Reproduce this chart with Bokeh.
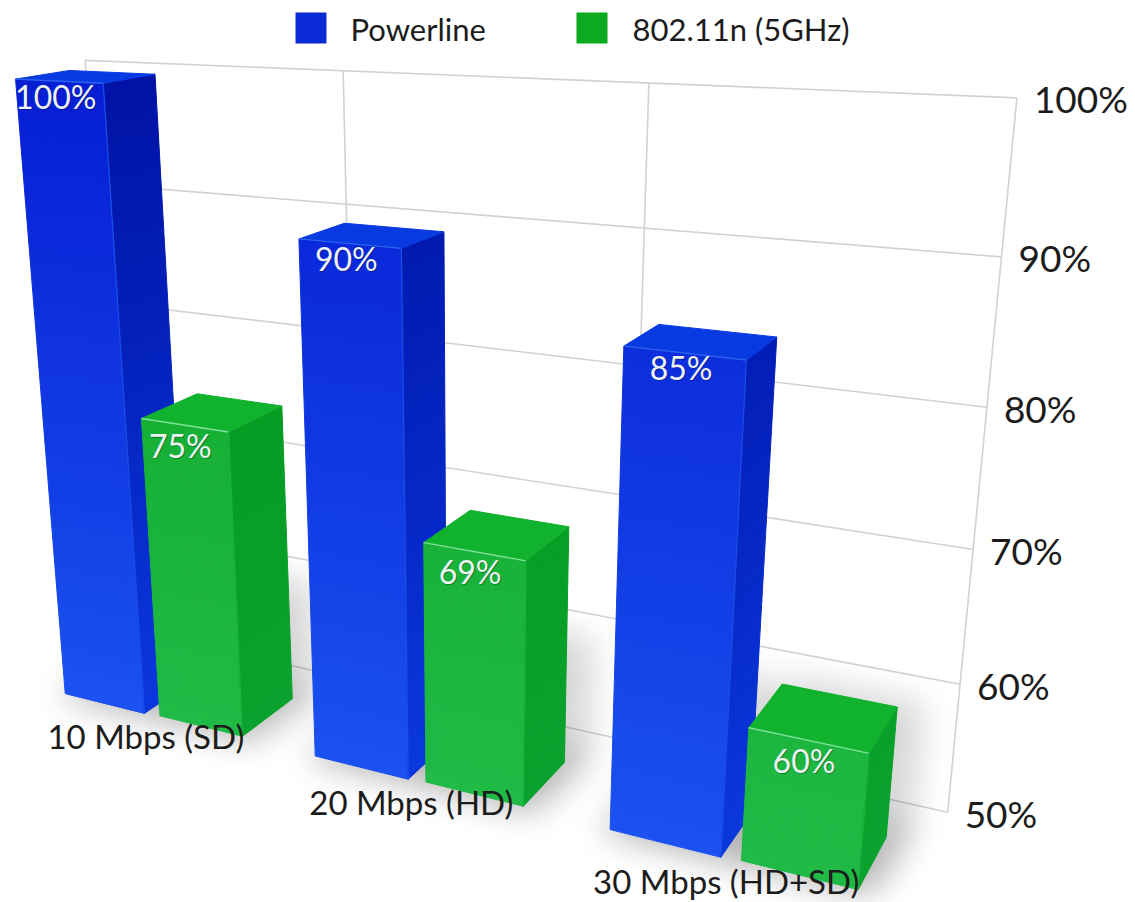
import numpy as np
from bokeh.core.properties import value
from bokeh.embed import file_html
from bokeh.plotting import figure
from bokeh.resources import INLINE

# Chart data
categories = ["10 Mbps (SD)", "20 Mbps (HD)", "30 Mbps (HD+SD)"]
powerline = [100, 90, 85]
wifi_5ghz = [75, 69, 60]
tick_values = [50, 60, 70, 80, 90, 100]
series_names = ["Powerline", "802.11n (5GHz)"]

# Pinhole camera for the 3D scene: column order is category, height, depth, 1
CAMERA = np.array([
    [208.1123, -47.27131, -96.3885, 123.397],
    [4.414067, -573.8098, 9.989085, 627.6443],
    [-0.07017557, -0.1003155, -0.06810682, 1.0],
])

# Bar layout inside each category slot: offset, width, back depth, front depth
BLUE_BOX = (0.1568, 0.3340, 0.5193, 1.0)
GREEN_BOX = (0.5478, 0.3280, 0.4156, 0.9830)

# Shades per face as (low end of the axis, high end of the axis)
BLUE_FRONT = ((26, 82, 240), (6, 30, 212))
BLUE_SIDE = ((10, 56, 222), (0, 18, 165))
BLUE_TOP = (8, 58, 226)
GREEN_FRONT = ((32, 186, 70), (12, 166, 36))
GREEN_SIDE = ((10, 162, 46), (3, 150, 24))
GREEN_TOP = (16, 178, 46)
FONT = value("Lato")
W, H = 1135, 902
SHADOW_TOP = 430


def project(x, v, z):
    q = CAMERA @ np.array([x, (v - 50) / 50, z, 1.0])
    return q[0] / q[2], q[1] / q[2]


def polygon(points):
    pts = [project(*pt) for pt in points]
    return [a for a, _ in pts], [b for _, b in pts]


def hex_colour(rgb):
    return "#%02x%02x%02x" % tuple(int(round(c)) for c in rgb)


def shade(pair, v):
    t = (v - 50) / 50
    return hex_colour(np.array(pair[0]) * (1 - t) + np.array(pair[1]) * t)


def fill_convex(mask, xs, ys, strength):
    """Add a convex polygon to a raster mask whose first row is SHADOW_TOP."""
    xs, ys = np.asarray(xs), np.asarray(ys) - SHADOW_TOP
    gx, gy = np.meshgrid(np.arange(mask.shape[1]), np.arange(mask.shape[0]))
    inside_pos = np.ones(mask.shape, bool)
    inside_neg = np.ones(mask.shape, bool)
    for k in range(len(xs)):
        j = (k + 1) % len(xs)
        cross = (xs[j] - xs[k]) * (gy - ys[k]) - (ys[j] - ys[k]) * (gx - xs[k])
        inside_pos &= cross >= 0
        inside_neg &= cross <= 0
    mask[inside_pos | inside_neg] += strength


def box_blur(mask, radius):
    kernel = np.ones(2 * radius + 1) / (2 * radius + 1)
    out = mask
    for _ in range(3):
        out = np.apply_along_axis(lambda m: np.convolve(m, kernel, "same"), 0, out)
        out = np.apply_along_axis(lambda m: np.convolve(m, kernel, "same"), 1, out)
    return out


p = figure(width=W, height=H, x_range=(0, W), y_range=(H, 0),
           toolbar_location=None, output_backend="svg", min_border=0)
p.axis.visible = False
p.grid.visible = False
p.outline_line_color = None
p.background_fill_color = "white"
p.border_fill_color = "white"

# Back wall grid
grid_xs, grid_ys = [], []
for tick in tick_values:
    gx, gy = polygon([(0, tick, 0), (3, tick, 0)])
    grid_xs.append(gx)
    grid_ys.append(gy)
for slot in range(4):
    gx, gy = polygon([(slot, 50, 0), (slot, 100, 0)])
    grid_xs.append(gx)
    grid_ys.append(gy)
p.multi_line(grid_xs, grid_ys, line_color="#d2d2d2", line_width=1.6)

# Soft contact shadows around the bars
shadow = np.zeros((H - SHADOW_TOP, W))
for slot in range(3):
    for box in (BLUE_BOX, GREEN_BOX):
        off, width, back, front = box
        x0, x1 = slot + off, slot + off + width
        sx, sy = polygon([(x0 - 0.02, 50, front + 0.05), (x1 + 0.04, 50, front + 0.05),
                          (x1 + 0.06, 50, back - 0.15), (x0 - 0.02, 50, back - 0.15)])
        fill_convex(shadow, sx, sy, 0.28)
        sx, sy = polygon([(x0, 50, back - 0.12), (x1 + 0.06, 50, back - 0.12),
                          (x1 + 0.06, 60, back - 0.12), (x0, 60, back - 0.12)])
        fill_convex(shadow, sx, sy, 0.16)
alpha = np.clip(box_blur(shadow, 15), 0, 0.36)
rgba = np.zeros(alpha.shape, dtype=np.uint32)
view = rgba.view(dtype=np.uint8).reshape((*alpha.shape, 4))
view[..., 3] = (alpha * 255).astype(np.uint8)
p.image_rgba(image=[rgba], x=0, y=SHADOW_TOP, dw=W, dh=H - SHADOW_TOP)

# Bars, painted back to front, each face split into bands for a vertical gradient
face_xs, face_ys, face_colours = [], [], []
edge_xs, edge_ys, edge_colours = [], [], []
value_x, value_y, value_text = [], [], []
BANDS = 36


def add_bar(slot, v, box, front_pair, side_pair, top_rgb, edge_top, edge_seam, label_dx, label_dy):
    off, width, back, front = box
    x0, x1 = slot + off, slot + off + width
    steps = np.linspace(50, v, BANDS + 1)
    for lo, hi in zip(steps[:-1], steps[1:]):
        mid = (lo + hi) / 2
        fx, fy = polygon([(x0, lo, front), (x1, lo, front), (x1, hi, front), (x0, hi, front)])
        face_xs.append(fx)
        face_ys.append(fy)
        face_colours.append(shade(front_pair, mid))
        fx, fy = polygon([(x1, lo, front), (x1, lo, back), (x1, hi, back), (x1, hi, front)])
        face_xs.append(fx)
        face_ys.append(fy)
        face_colours.append(shade(side_pair, mid))
    fx, fy = polygon([(x0, v, front), (x1, v, front), (x1, v, back), (x0, v, back)])
    face_xs.append(fx)
    face_ys.append(fy)
    face_colours.append(hex_colour(top_rgb))
    ex, ey = polygon([(x0, v, front), (x1, v, front)])
    edge_xs.append(ex)
    edge_ys.append(ey)
    edge_colours.append(edge_top)
    ex, ey = polygon([(x1, v, front), (x1, 50, front)])
    edge_xs.append(ex)
    edge_ys.append(ey)
    edge_colours.append(edge_seam)
    cx, cy = project((x0 + x1) / 2, v, front)
    value_x.append(cx + label_dx)
    value_y.append(cy + label_dy)
    value_text.append(f"{v}%")


for slot in range(3):
    add_bar(slot, powerline[slot], BLUE_BOX, BLUE_FRONT, BLUE_SIDE, BLUE_TOP, "#2c62ee", "#1a4ce8", -3, 15)
    add_bar(slot, wifi_5ghz[slot], GREEN_BOX, GREEN_FRONT, GREEN_SIDE, GREEN_TOP, "#7fe29a", "#18b23c", -4, 20)

p.patches(face_xs, face_ys, fill_color=face_colours, line_color=face_colours, line_width=1.0)
p.multi_line(edge_xs, edge_ys, line_color=edge_colours, line_width=1.4)

# Value labels on the bar fronts, with a small drop shadow
p.text(np.array(value_x) + 1, np.array(value_y) + 1, text=value_text, text_color="#000000", text_alpha=0.3,
       text_font=FONT, text_font_size="32px", text_align="center", text_baseline="middle")
p.text(value_x, value_y, text=value_text, text_color="#eef3f2",
       text_font=FONT, text_font_size="32px", text_align="center", text_baseline="middle")

# Percentage scale along the right-hand wall edge
tick_x = [project(3, t, 0)[0] + 17 for t in tick_values]
tick_y = [project(3, t, 0)[1] + 1 for t in tick_values]
p.text(tick_x, tick_y, text=[f"{t}%" for t in tick_values], text_color="#1c1c1c",
       text_font=FONT, text_font_size="37px", text_align="left", text_baseline="middle")

# Category names under each pair of bars
cat_x, cat_y = [], []
for slot in range(3):
    left = project(slot + BLUE_BOX[0], 50, BLUE_BOX[3])
    right = project(slot + GREEN_BOX[0] + GREEN_BOX[1], 50, GREEN_BOX[3])
    cat_x.append((left[0] + right[0]) / 2 - 8)
    cat_y.append((left[1] + right[1]) / 2 + 21)
p.text(cat_x, cat_y, text=categories, text_color="#1c1c1c",
       text_font=FONT, text_font_size="33px", text_align="center", text_baseline="middle")

# Legend row
p.quad(left=[295, 576], right=[326, 607], top=[12, 12], bottom=[43, 43],
       fill_color=["#0a2ad8", "#0caa1e"], line_color=None)
p.text([350, 632], [28, 28], text=series_names, text_color="#1c1c1c",
       text_font=FONT, text_font_size="31px", text_align="left", text_baseline="middle")

open("out.html", "w").write(file_html(p, INLINE))
